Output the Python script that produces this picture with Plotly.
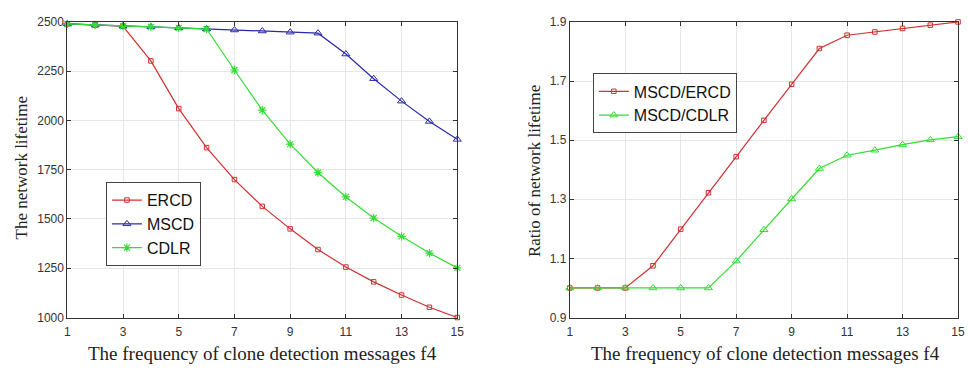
import plotly.graph_objects as go

f4 = list(range(1, 16))
ercd = [2490, 2484, 2478, 2302, 2060, 1862, 1700, 1564, 1450, 1345, 1256, 1181, 1114, 1052, 1000]
mscd = [2490, 2484, 2478, 2475, 2470, 2464, 2459, 2454, 2448, 2443, 2337, 2212, 2098, 1995, 1904]
cdlr = [2490, 2484, 2478, 2475, 2470, 2464, 2256, 2052, 1880, 1736, 1612, 1505, 1412, 1327, 1252]

ratio_ercd = [1.0, 1.0, 1.0, 1.075, 1.199, 1.322, 1.444, 1.567, 1.689, 1.81, 1.855, 1.866, 1.878, 1.889, 1.9]
ratio_cdlr = [1.0, 1.0, 1.0, 1.0, 1.0, 1.0, 1.091, 1.197, 1.301, 1.404, 1.449, 1.466, 1.485, 1.501, 1.512]

x_ticks = [1, 3, 5, 7, 9, 11, 13, 15]
y1_ticks = [1000, 1250, 1500, 1750, 2000, 2250, 2500]
y2_ticks = [0.9, 1.1, 1.3, 1.5, 1.7, 1.9]

RED = "#d03030"
BLUE = "#2a2aa8"
GREEN = "#33dd33"

fig = go.Figure()
fig.add_trace(go.Scatter(x=f4, y=ercd, name="ERCD", mode="lines+markers",
                         line=dict(color=RED, width=1.2),
                         marker=dict(symbol="square-open", size=4.5, color=RED),
                         xaxis="x", yaxis="y", legend="legend", cliponaxis=False))
fig.add_trace(go.Scatter(x=f4, y=mscd, name="MSCD", mode="lines+markers",
                         line=dict(color=BLUE, width=1.2),
                         marker=dict(symbol="triangle-up-open", size=7, color=BLUE),
                         xaxis="x", yaxis="y", legend="legend", cliponaxis=False))
fig.add_trace(go.Scatter(x=f4, y=cdlr, name="CDLR", mode="lines+markers",
                         line=dict(color=GREEN, width=1.2),
                         marker=dict(symbol="asterisk-open", size=7, color=GREEN, line=dict(width=1.2, color=GREEN)),
                         xaxis="x", yaxis="y", legend="legend", cliponaxis=False))
fig.add_trace(go.Scatter(x=f4, y=ratio_ercd, name="MSCD/ERCD", mode="lines+markers",
                         line=dict(color=RED, width=1.2),
                         marker=dict(symbol="square-open", size=4.5, color=RED),
                         xaxis="x2", yaxis="y2", legend="legend2", cliponaxis=False))
fig.add_trace(go.Scatter(x=f4, y=ratio_cdlr, name="MSCD/CDLR", mode="lines+markers",
                         line=dict(color=GREEN, width=1.2),
                         marker=dict(symbol="triangle-up-open", size=7, color=GREEN),
                         xaxis="x2", yaxis="y2", legend="legend2", cliponaxis=False))

W, H = 968, 371
ax_common = dict(showgrid=True, gridcolor="#e6e6e6", gridwidth=1, zeroline=False,
                 showline=True, linecolor="#333333", linewidth=1, mirror="ticks",
                 ticks="inside", ticklen=4, tickcolor="#333333",
                 tickfont=dict(family="Liberation Sans, Arial", size=12, color="#333333"))

top = 1 - 15.5 / H
bot = 1 - 322.7 / H
leg_font = dict(family="Liberation Sans, Arial", size=16, color="#111111")
fig.update_layout(
    width=W, height=H, margin=dict(l=0, r=0, t=0, b=0),
    paper_bgcolor="white", plot_bgcolor="white",
    xaxis=dict(domain=[65 / W, 459 / W], range=[1, 15], tickvals=x_ticks, anchor="y",
               ticklabelstandoff=3, **ax_common),
    yaxis=dict(domain=[bot, top], range=[1000, 2500], tickvals=y1_ticks, anchor="x", **ax_common),
    xaxis2=dict(domain=[572.7 / W, 965 / W], range=[1, 15], tickvals=x_ticks, anchor="y2",
                ticklabelstandoff=3, **ax_common),
    yaxis2=dict(domain=[bot, top], range=[0.9, 1.9], tickvals=y2_ticks, tickformat=".1f", anchor="x2", **ax_common),
    legend=dict(x=104 / W, y=1 - 182 / H, xanchor="left", yanchor="top",
                bgcolor="white", bordercolor="#444444", borderwidth=1,
                font=leg_font, tracegroupgap=0, itemwidth=30),
    legend2=dict(x=596 / W, y=1 - 69 / H, xanchor="left", yanchor="top",
                 bgcolor="white", bordercolor="#444444", borderwidth=1,
                 font=leg_font, tracegroupgap=0, itemwidth=30),
    showlegend=True,
    annotations=[
        dict(text="The frequency of clone detection messages f4", xref="paper", yref="paper",
             x=262 / W, y=1 - 360 / H, showarrow=False, xanchor="center", yanchor="middle",
             font=dict(family="Liberation Serif, Times New Roman", size=19, color="#222222")),
        dict(text="The frequency of clone detection messages f4", xref="paper", yref="paper",
             x=770 / W, y=1 - 360 / H, showarrow=False, xanchor="center", yanchor="middle",
             font=dict(family="Liberation Serif, Times New Roman", size=19, color="#222222")),
        dict(text="The network lifetime", xref="paper", yref="paper", textangle=-90,
             x=19 / W, y=1 - 167 / H, showarrow=False, xanchor="center", yanchor="middle",
             font=dict(family="Liberation Serif, Times New Roman", size=17, color="#222222")),
        dict(text="Ratio of network lifetime", xref="paper", yref="paper", textangle=-90,
             x=537 / W, y=1 - 170 / H, showarrow=False, xanchor="center", yanchor="middle",
             font=dict(family="Liberation Serif, Times New Roman", size=17, color="#222222")),
    ],
)

fig.write_html("out.html")
